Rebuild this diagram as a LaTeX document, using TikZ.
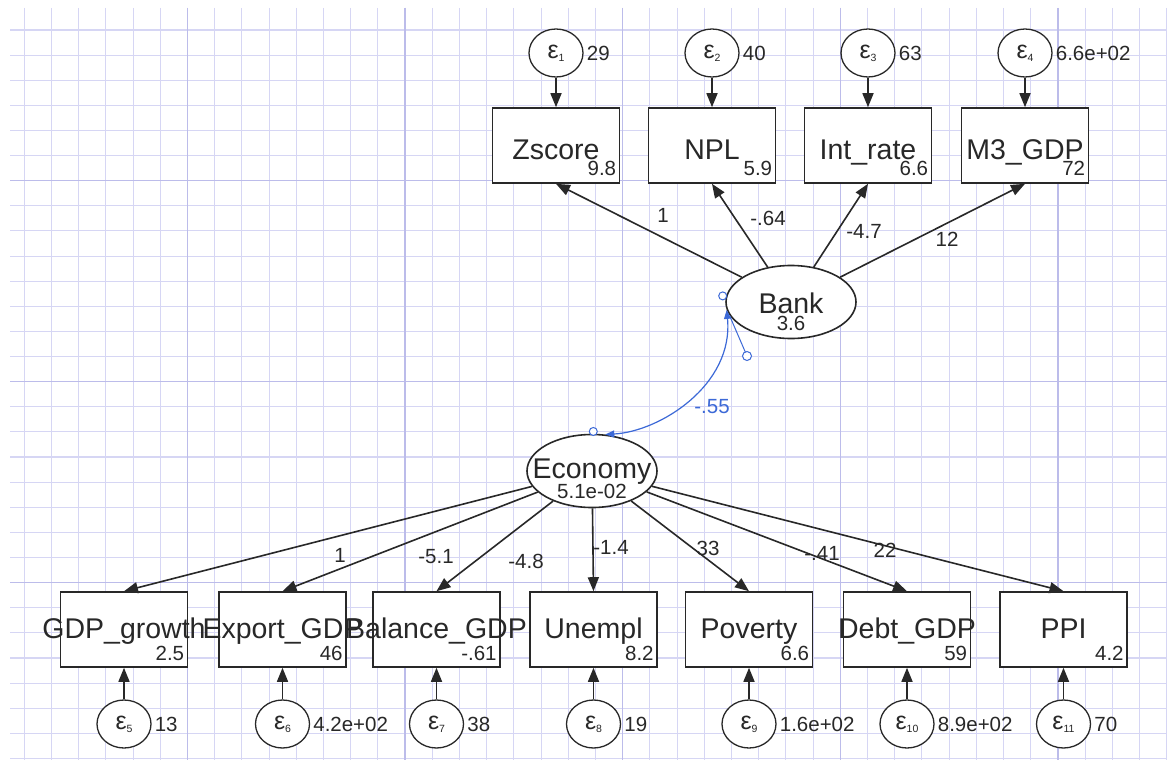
\documentclass[tikz,border=0pt]{standalone}
\usepackage{fontspec}
\setmainfont{Liberation Sans}
\usetikzlibrary{arrows.meta,shapes.geometric,calc}
\definecolor{ink}{RGB}{40,40,40}
\definecolor{gridminor}{RGB}{214,214,244}
\definecolor{gridmajor}{RGB}{188,188,234}
\definecolor{covblue}{RGB}{60,105,215}
\newcommand\labfont{\fontsize{28.5}{30}\selectfont}
\newcommand\numfont{\fontsize{20.5}{22}\selectfont}
\newcommand\epsfont{\fontsize{25}{25}\selectfont}
\newcommand\errtxt[1]{{\epsfont ε}\raisebox{-3pt}{\fontsize{10.5}{10.5}\selectfont #1}}
\begin{document}
\begin{tikzpicture}[x=1pt,y=-1pt,
  obs/.style={draw=ink, line width=1.6pt, fill=white, rectangle, minimum width=127pt, minimum height=75pt, inner sep=0pt},
  lat/.style={draw=ink, line width=1.6pt, fill=white, ellipse, minimum width=130pt, minimum height=73pt, inner sep=0pt},
  errc/.style={draw=ink, line width=1.3pt, fill=white, ellipse, minimum width=54pt, minimum height=48pt, inner sep=0pt, text=ink},
  lab/.style={font=\labfont, text=ink, anchor=base, inner sep=0pt},
  num/.style={font=\numfont, text=ink, inner sep=0pt},
  pth/.style={draw=ink, line width=1.6pt, -{Triangle[length=14pt,width=11pt]}},
  cov/.style={draw=covblue, line width=1.2pt, {Triangle[length=9pt,width=7pt]}-{Triangle[length=9pt,width=7pt]}},
  hnd/.style={draw=covblue, line width=1pt, fill=white},
]
\useasboundingbox (0,0) rectangle (1167,760);
\fill[white] (0,0) rectangle (1167,760);
% grid
\foreach \k in {-6,...,36} {\pgfmathsetmacro\xx{187.5+27.2*\k}
  \draw[gridminor, line width=1.1pt] (\xx,8) -- (\xx,760);}
\foreach \k in {-6,...,23} {\pgfmathsetmacro\yy{180.7+25.12*\k}
  \draw[gridminor, line width=1.1pt] (10,\yy) -- (1167,\yy);}
\foreach \xx in {187.5,405.1,622.7,840.3,1057.9}
  \draw[gridmajor, line width=1.4pt] (\xx,8) -- (\xx,760);
\foreach \yy in {180.7,381.7,582.7}
  \draw[gridmajor, line width=1.4pt] (10,\yy) -- (1167,\yy);

% latent variables
\node[lat] (bank) at (791,302) {};
\node[lab, yshift=-11pt] (bankL) at (bank.center) {Bank};
\node[num, anchor=base, yshift=-28pt] (bankV) at (bank.center) {3.6};
\node[lat] (eco) at (592,471) {};
\node[lab, yshift=-7pt] (ecoL) at (eco.center) {Economy};
\node[num, anchor=base, yshift=-27pt] (ecoV) at (eco.center) {5.1e-02};

% top observed variables
\foreach \nm/\x/\t/\v/\e/\ev in {zscore/556/Zscore/9.8/1/29, npl/712/NPL/5.9/2/40, intrate/868/Int\_rate/6.6/3/63, mgdp/1025/M3\_GDP/72/4/6.6e+02}{
  \node[obs] (\nm) at (\x,145.5) {};
  \node[lab, yshift=-13.5pt] (\nm L) at (\nm.center) {\t};
  \node[num, anchor=base east, xshift=-4pt, yshift=8pt] (\nm V) at (\nm.south east) {\v};
  \node[errc] (\nm E) at (\x,53) {\errtxt{\e}};
  \node[num, anchor=west, xshift=3pt] (\nm EV) at (\nm E.east) {\ev};
  \draw[pth] (\nm E) -- (\nm);
  \draw[pth] (bank) -- (\nm.south);
}

% bottom observed variables
\foreach \nm/\x/\t/\v/\e/\ev in {gdpg/124/GDP\_growth/2.5/5/13, expg/282.5/Export\_GDP/46/6/4.2e+02, balg/436.5/Balance\_GDP/-.61/7/38, unem/593.5/Unempl/8.2/8/19, pov/749/Poverty/6.6/9/1.6e+02, debt/907/Debt\_GDP/59/10/8.9e+02, ppi/1063.5/PPI/4.2/11/70}{
  \node[obs] (\nm) at (\x,629.5) {};
  \node[num, anchor=base east, xshift=-4pt, yshift=7pt] (\nm V) at (\nm.south east) {\v};
  \node[errc] (\nm E) at (\x,724) {\errtxt{\e}};
  \node[num, anchor=west, xshift=3pt] (\nm EV) at (\nm E.east) {\ev};
  \draw[pth] (\nm E) -- (\nm);
  \draw[pth] (eco) -- (\nm.north);
}
% bottom labels drawn after all boxes (they overflow onto neighbours)
\foreach \nm/\t in {gdpg/GDP\_growth, expg/Export\_GDP, balg/Balance\_GDP, unem/Unempl, pov/Poverty, debt/Debt\_GDP, ppi/PPI}
  \node[lab, yshift=-9pt] (\nm L) at (\nm.center) {\t};

% coefficients
\node[num] (cz) at (663,215) {1};
\node[num] (cn) at (768,218) {-.64};
\node[num] (ci) at (864,231) {-4.7};
\node[num] (cm) at (947,239) {12};
\node[num] (cg) at (340,555) {1};
\node[num] (cx) at (436,557) {-5.1};
\node[num] (cb) at (526,561) {-4.8};
\node[num] (cu) at (611,547) {-1.4};
\node[num] (cp) at (708,548) {33};
\node[num] (cd) at (822,553) {-.41};
\node[num] (ck) at (885,550) {22};

% covariance
\draw[cov] (bank.187) .. controls ($(bank.187)+(7,75)$) and ($(eco.70)+(55,-3)$) .. (eco.70);
\node[num, text=covblue] (covL) at (712,407) {-.55};
\coordinate (hb) at (747,356);
\draw[covblue, line width=1pt] ($(bank.187)+(3,6)$) -- (hb);
\draw[hnd] (hb) circle (4.5pt);
\draw[hnd] ($(bank.187)+(-4,-14)$) circle (4pt);
\draw[hnd] ($(eco.70)+(-12,-3)$) circle (4pt);
\end{tikzpicture}
\end{document}
